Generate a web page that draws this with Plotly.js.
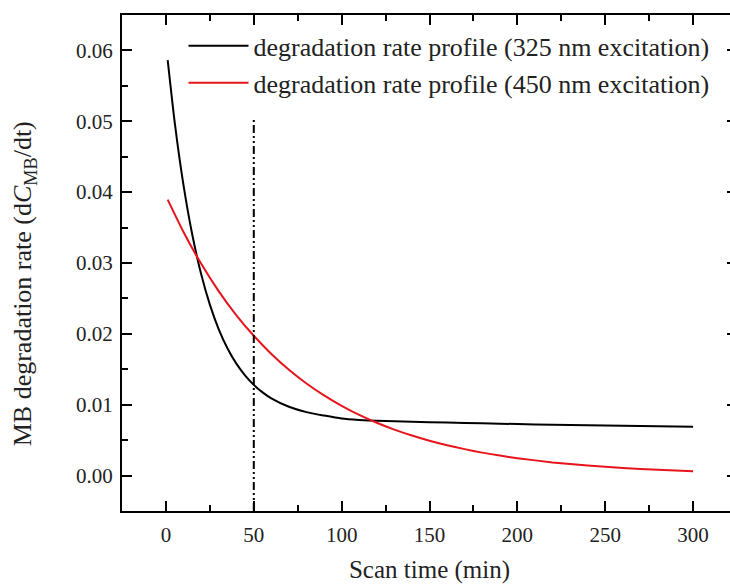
<!DOCTYPE html>
<html>
<head>
<meta charset="utf-8">
<script src="https://cdn.plot.ly/plotly-3.0.1.min.js"></script>
<style>
html,body{margin:0;padding:0;overflow:hidden;background:#fff;}
#chart{width:745px;height:584px;}
</style>
</head>
<body>
<div id="chart"></div>
<script>
// Scan time (min)
const timeBlack = [1, 5, 10, 15, 20, 25, 30, 35, 40, 45, 50, 55, 60, 70, 80, 90, 100, 110, 120, 140, 160, 180, 200, 220, 240, 260, 280, 300];
// degradation rate profile (325 nm excitation)
const rate325 = [0.05864, 0.04985, 0.04098, 0.03398, 0.02847, 0.02412, 0.02068, 0.01797, 0.01583, 0.01414, 0.01280, 0.01174, 0.01090, 0.00971, 0.00895, 0.00847, 0.00805, 0.00785, 0.00772, 0.00760, 0.00748, 0.00737, 0.00727, 0.00718, 0.00710, 0.00702, 0.00695, 0.00688];
const timeRed = [1, 10, 20, 30, 40, 50, 60, 70, 80, 90, 100, 110, 120, 130, 140, 150, 160, 170, 180, 190, 200, 220, 240, 260, 280, 300];
// degradation rate profile (450 nm excitation)
const rate450 = [0.03895, 0.03438, 0.02992, 0.02604, 0.02266, 0.01973, 0.01717, 0.01494, 0.01300, 0.01132, 0.00985, 0.00857, 0.00746, 0.00649, 0.00565, 0.00492, 0.00428, 0.00373, 0.00324, 0.00282, 0.00246, 0.00186, 0.00141, 0.00107, 0.00081, 0.00061];
// vertical marker at 50 min
const markerTime = [50, 50];
const markerRate = [-0.005, 0.0505];
const seriesNames = ['degradation rate profile (325 nm excitation)', 'degradation rate profile (450 nm excitation)'];
const xTicks = [0, 50, 100, 150, 200, 250, 300];
const yTicks = [0.00, 0.01, 0.02, 0.03, 0.04, 0.05, 0.06];
const yTickText = ['0.00', '0.01', '0.02', '0.03', '0.04', '0.05', '0.06'];
const xTitle = 'Scan time (min)';
const yTitle = 'MB degradation rate (d<i>C</i><sub>MB</sub>/dt)';

const FONT = 'Liberation Serif, Times New Roman, serif';

const traces = [
  {x: timeBlack, y: rate325, type: 'scatter', mode: 'lines', name: seriesNames[0],
   line: {color: '#000000', width: 2, shape: 'spline', smoothing: 0.6}},
  {x: timeRed, y: rate450, type: 'scatter', mode: 'lines', name: seriesNames[1],
   line: {color: '#e8141c', width: 2, shape: 'spline', smoothing: 0.6}},
  {x: markerTime, y: markerRate, type: 'scatter', mode: 'lines', showlegend: false,
   line: {color: '#000000', width: 2, dash: '8px,3px,2px,3px,2px,3px'}}
];

const axisCommon = {
  showline: true, linecolor: '#000', linewidth: 2, mirror: 'ticks',
  ticks: 'inside', ticklen: 10, tickwidth: 2, tickcolor: '#000',
  showgrid: false, zeroline: false,
  tickfont: {family: FONT, size: 21, color: '#222'}
};

const layout = {
  width: 745, height: 584,
  margin: {l: 122, r: 8, t: 15, b: 73},
  paper_bgcolor: '#fff', plot_bgcolor: '#fff',
  font: {family: FONT, color: '#222'},
  showlegend: true,
  legend: {x: 0.1, y: 0.985, xanchor: 'left', yanchor: 'top', bgcolor: 'rgba(0,0,0,0)',
           font: {family: FONT, size: 26, color: '#222'}, tracegroupgap: 0, itemwidth: 60},
  xaxis: Object.assign({}, axisCommon, {
    range: [-25, 325], tickvals: xTicks,
    minor: {dtick: 25, ticks: 'inside', ticklen: 6, tickwidth: 2, tickcolor: '#000', showgrid: false},
    ticklabelstandoff: 4,
    title: {text: xTitle, font: {family: FONT, size: 25, color: '#222'}, standoff: 14}
  }),
  yaxis: Object.assign({}, axisCommon, {
    range: [-0.005, 0.065], tickvals: yTicks, ticktext: yTickText,
    minor: {dtick: 0.005, ticks: 'inside', ticklen: 6, tickwidth: 2, tickcolor: '#000', showgrid: false},
    ticklabelstandoff: 3
  }),
  annotations: [{
    text: yTitle, xref: 'paper', yref: 'paper', x: -0.158, y: 0.4587,
    xanchor: 'center', yanchor: 'middle', textangle: -90, showarrow: false,
    font: {family: FONT, size: 26, color: '#222'}
  }]
};

Plotly.newPlot('chart', traces, layout, {displayModeBar: false, staticPlot: true});
</script>
</body>
</html>
